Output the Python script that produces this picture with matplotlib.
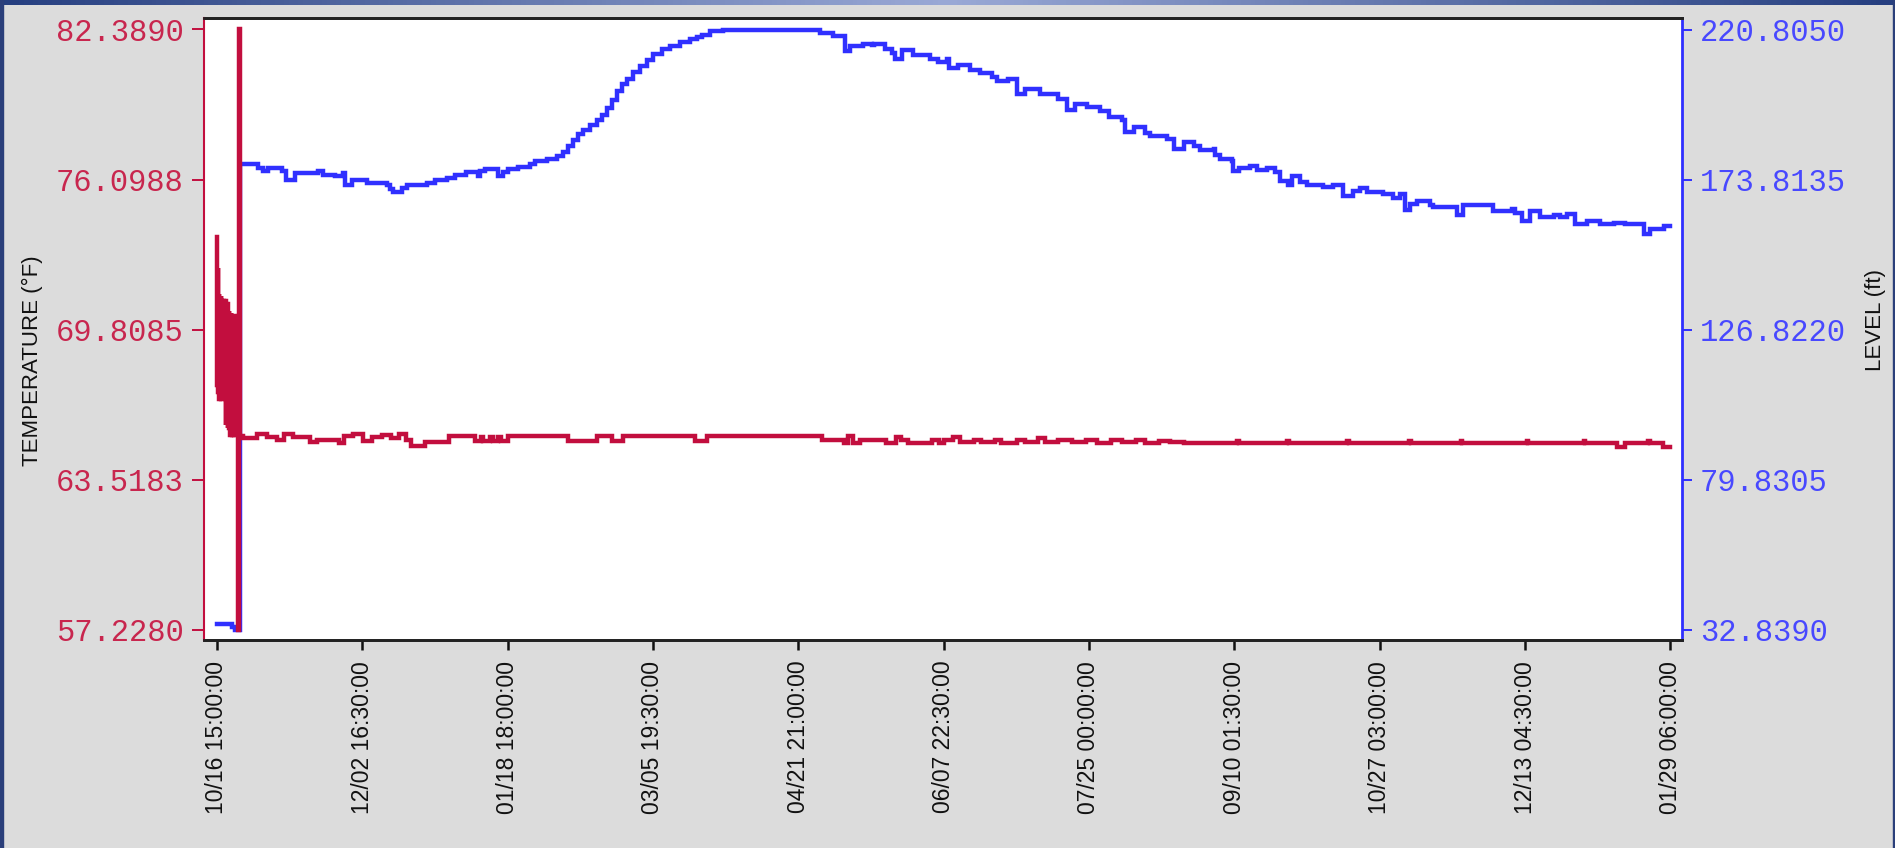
import datetime as dt
import matplotlib
matplotlib.use("Agg")
import matplotlib.pyplot as plt
from matplotlib.colors import LinearSegmentedColormap
from matplotlib.patches import Rectangle
import numpy as np

# time axis: days counted from the first sample
start = dt.datetime(2015, 10, 16, 15, 0)
tick_step = dt.timedelta(days=47, hours=1, minutes=30)
n_ticks = 11

# LEVEL (ft) - right axis
level_days = [0.0, 4.8, 6.0, 7.4, 13.4, 14.9, 16.6, 20.9, 22.3, 25.3, 32.8, 34.4, 38.2, 40.9,
              41.5, 43.6, 48.5, 54.9, 56.0, 57.1, 59.8, 61.4, 67.9, 70.6, 74.4, 77.1, 80.8,
              84.6, 85.2, 86.8, 91.1, 92.7, 94.3, 97.6, 101.4, 103.0, 106.8, 110.0, 112.2,
              113.8, 115.4, 117.0, 118.6, 120.8, 123.0, 124.6, 126.2, 127.8, 129.4, 131.0,
              132.7, 134.8, 137.0, 139.1, 141.3, 144.0, 146.7, 149.9, 153.2, 155.3, 157.0,
              159.6, 164.0, 195.3, 199.6, 203.4, 205.0, 209.3, 212.0, 212.6, 216.3, 218.5,
              219.6, 221.7, 225.5, 230.9, 233.6, 236.3, 237.1, 240.1, 243.9, 247.1, 250.9,
              252.5, 256.3, 259.0, 261.7, 266.5, 272.5, 275.2, 277.9, 281.7, 286.0, 288.7,
              293.0, 294.1, 296.8, 300.6, 302.2, 307.6, 309.8, 313.0, 316.3, 318.3, 322.7,
              323.2, 324.8, 328.6, 329.1, 330.8, 334.5, 336.7, 340.0, 342.6, 344.3, 346.9,
              348.0, 350.7, 352.9, 358.2, 361.5, 364.7, 368.0, 370.1, 372.3, 377.7, 380.9,
              383.1, 384.7, 386.3, 388.5, 392.8, 393.9, 401.5, 403.6, 413.3, 419.3, 420.4,
              422.5, 425.2, 428.5, 432.8, 435.0, 437.1, 439.8, 443.6, 447.9, 452.3, 456.0,
              462.0, 464.1, 468.5, 470.6]
level_ft = [34.7, 33.7, 32.839, 178.8, 177.5, 176.6, 177.3, 176.5, 173.6, 175.9, 176.5, 175.4,
            174.8, 175.9, 172.0, 173.6, 172.9, 172.2, 170.9, 169.9, 171.2, 172.0, 172.8, 173.6,
            174.4, 175.3, 176.2, 175.0, 176.6, 177.2, 175.0, 176.2, 177.2, 177.8, 178.7, 179.5,
            180.3, 181.2, 182.6, 184.2, 186.2, 188.0, 189.4, 190.8, 192.6, 194.0, 196.2, 198.8,
            201.4, 203.6, 205.4, 207.4, 209.3, 211.3, 213.0, 214.6, 215.8, 216.8, 217.8, 218.6,
            219.2, 220.2, 220.805, 219.6, 218.7, 214.0, 215.7, 216.4, 215.9, 216.4, 214.8,
            213.4, 211.5, 214.3, 212.8, 211.5, 210.6, 211.5, 208.6, 209.6, 208.0, 207.1, 206.0,
            204.6, 205.4, 200.5, 202.3, 200.7, 199.1, 195.6, 197.6, 196.5, 195.3, 193.4, 192.6,
            188.7, 190.3, 188.4, 187.5, 186.4, 183.4, 185.6, 184.3, 183.0, 183.3, 181.5, 180.4,
            179.5, 176.4, 177.4, 178.0, 176.9, 177.3, 176.2, 173.3, 172.2, 174.8, 173.2, 172.2,
            171.6, 172.2, 168.6, 170.2, 171.2, 169.8, 169.2, 168.2, 169.2, 164.2, 166.2, 167.1,
            166.0, 165.2, 162.8, 165.7, 163.9, 164.6, 163.4, 161.0, 164.0, 162.0, 162.8, 162.2,
            163.0, 159.9, 161.0, 159.9, 160.3, 159.9, 156.9, 158.3, 159.3, 159.3]

# TEMPERATURE (F) - left axis; first week is noisy (high / low pairs)
noise_days = [0.0, 0.3, 0.6, 0.9, 1.2, 1.5, 1.8, 2.1, 2.4, 2.7, 3.0,
              3.3, 3.6, 3.9, 4.2, 4.5, 4.8, 5.1, 5.4, 5.7, 6.0, 6.3]
noise_hi = [73.7, 72.4, 71.3, 70.8, 71.2, 71.0, 70.7, 71.0, 70.6, 71.0, 70.5,
            70.9, 70.3, 70.6, 70.1, 70.5, 70.4, 69.8, 70.4, 70.1, 70.4, 69.9]
noise_lo = [67.5, 67.2, 66.9, 67.3, 66.9, 67.1, 66.9, 67.4, 66.9, 65.8, 66.4,
            65.7, 66.1, 65.7, 65.4, 66.0, 65.4, 65.9, 65.4, 66.0, 65.9, 65.5]

temp_days = [6.65, 7.0, 7.3, 8.4, 13.1, 16.2, 19.3, 21.6, 24.7, 30.1, 32.4, 39.4, 41.0, 44.0,
             47.2, 50.2, 53.4, 56.5, 58.8, 61.1, 62.7, 67.3, 75.1, 83.6, 85.5, 86.2, 88.5,
             89.3, 91.0, 92.0, 94.4, 113.8, 123.1, 127.8, 131.6, 154.9, 158.7, 195.9, 202.9,
             204.4, 206.0, 208.3, 216.8, 219.9, 221.5, 223.8, 231.5, 233.8, 235.4, 238.5,
             240.5, 245.0, 247.5, 252.0, 254.0, 259.0, 261.5, 266.0, 268.0, 272.5, 277.0,
             281.5, 285.0, 289.5, 293.0, 297.5, 300.5, 305.0, 308.5, 313.3, 330.3, 330.8,
             346.6, 347.1, 366.0, 366.5, 386.1, 386.6, 402.8, 403.3, 424.1, 424.6, 442.6,
             443.1, 453.5, 455.8, 463.5, 464.0, 468.2, 470.6]
temp_f = [57.228, 82.389, 65.35, 65.25, 65.45, 65.3, 65.2, 65.45, 65.3, 65.1, 65.2, 65.05,
          65.35, 65.45, 65.15, 65.3, 65.4, 65.25, 65.45, 65.2, 64.95, 65.1, 65.35, 65.15,
          65.3, 65.15, 65.3, 65.15, 65.3, 65.15, 65.35, 65.15, 65.35, 65.15, 65.35, 65.15,
          65.35, 65.2, 65.05, 65.35, 65.05, 65.2, 65.05, 65.3, 65.2, 65.05, 65.2, 65.05,
          65.2, 65.3, 65.1, 65.2, 65.1, 65.2, 65.05, 65.2, 65.1, 65.25, 65.1, 65.2, 65.1,
          65.2, 65.05, 65.2, 65.1, 65.2, 65.05, 65.15, 65.1, 65.05, 65.15, 65.05, 65.15,
          65.05, 65.15, 65.05, 65.15, 65.05, 65.15, 65.05, 65.15, 65.05, 65.15, 65.05,
          64.88, 65.05, 65.15, 65.05, 64.88, 64.88]

left_ticks = [57.2280, 63.5183, 69.8085, 76.0988, 82.3890]
right_ticks = [32.8390, 79.8305, 126.8220, 173.8135, 220.8050]

RED = "#C20E3E"
BLUE = "#3030FF"
W, H = 1895, 848


def to_dates(days):
    return [start + dt.timedelta(days=d) for d in days]


# build temperature series: noise pairs then the rest
t_days, t_vals = [], []
for d, hi, lo in zip(noise_days, noise_hi, noise_lo):
    t_days += [d, d + 0.15]
    t_vals += [hi, lo]
t_days += temp_days
t_vals += temp_f

fig = plt.figure(figsize=(W / 100, H / 100), dpi=100, facecolor="#DCDCDC")
ax = fig.add_axes([204 / W, 1 - 640 / H, (1682 - 204) / W, (640 - 17.5) / H])
ax2 = ax.twinx()
# red on top of blue, white plot area from the lower axes
ax.set_zorder(ax2.get_zorder() + 1)
ax.patch.set_visible(False)
ax2.patch.set_visible(True)
ax2.patch.set_facecolor("white")

ax2.plot(to_dates(level_days), level_ft, color=BLUE, lw=3.2, drawstyle="steps-post",
         solid_joinstyle="miter")
ax.plot(to_dates(t_days), t_vals, color=RED, lw=3.2, drawstyle="steps-post",
        solid_joinstyle="miter")

ax.set_xlim(start - dt.timedelta(days=4.2), start + dt.timedelta(days=474.4))
ax.set_ylim(56.80, 82.89)
ax2.set_ylim(29.64, 224.57)

xt = [start + k * tick_step for k in range(n_ticks)]
ax.set_xticks(xt)
ax.set_xticklabels([t.strftime("%m/%d %H:%M:%S") for t in xt], rotation=90,
                   fontsize=16.5, family="Liberation Sans", color="#111111")
ax.tick_params(axis="x", length=7, width=1.8, pad=8, color="#111111")

ax.set_yticks(left_ticks)
ax.set_yticklabels(["%.4f" % v for v in left_ticks], fontsize=22,
                   family="Liberation Mono", color="#C8264E")
ax.tick_params(axis="y", length=8.5, width=1.4, pad=6, color=RED)

ax2.set_yticks(right_ticks)
ax2.set_yticklabels(["%.4f" % v for v in right_ticks], fontsize=22,
                    family="Liberation Mono", color="#4848FF")
ax2.tick_params(axis="y", length=7, width=1.4, pad=6, color=BLUE)

for a in (ax, ax2):
    a.spines["top"].set_color("#222222")
    a.spines["top"].set_linewidth(2)
    a.spines["bottom"].set_color("#222222")
    a.spines["bottom"].set_linewidth(2)
ax.spines["left"].set_color(RED)
ax.spines["left"].set_linewidth(1.5)
ax.spines["right"].set_visible(False)
ax2.spines["left"].set_visible(False)
ax2.spines["right"].set_color(BLUE)
ax2.spines["right"].set_linewidth(2)

fig.text(32 / W, 1 - 361 / H, "TEMPERATURE (°F)", rotation=90, ha="center", va="center",
         fontsize=16, family="Liberation Sans", color="#111111")
fig.text(1876 / W, 1 - 320 / H, "LEVEL (ft)", rotation=90, ha="center", va="center",
         fontsize=16, family="Liberation Sans", color="#111111")

# window frame: gradient title strip and thin side borders
bar = fig.add_axes([0, 1 - 5 / H, 1, 5 / H])
cmap = LinearSegmentedColormap.from_list("frame", ["#263F80", "#9AA9D6", "#263F80"])
bar.imshow(np.linspace(0, 1, 400).reshape(1, -1), aspect="auto", cmap=cmap)
bar.axis("off")
fig.add_artist(Rectangle((0, 0), 2.5 / W, 1, transform=fig.transFigure, color="#2B3F7A"))
fig.add_artist(Rectangle((1 - 2.5 / W, 0), 2.5 / W, 1, transform=fig.transFigure, color="#2B3F7A"))

fig.savefig("out.png", dpi=100, facecolor=fig.get_facecolor())
